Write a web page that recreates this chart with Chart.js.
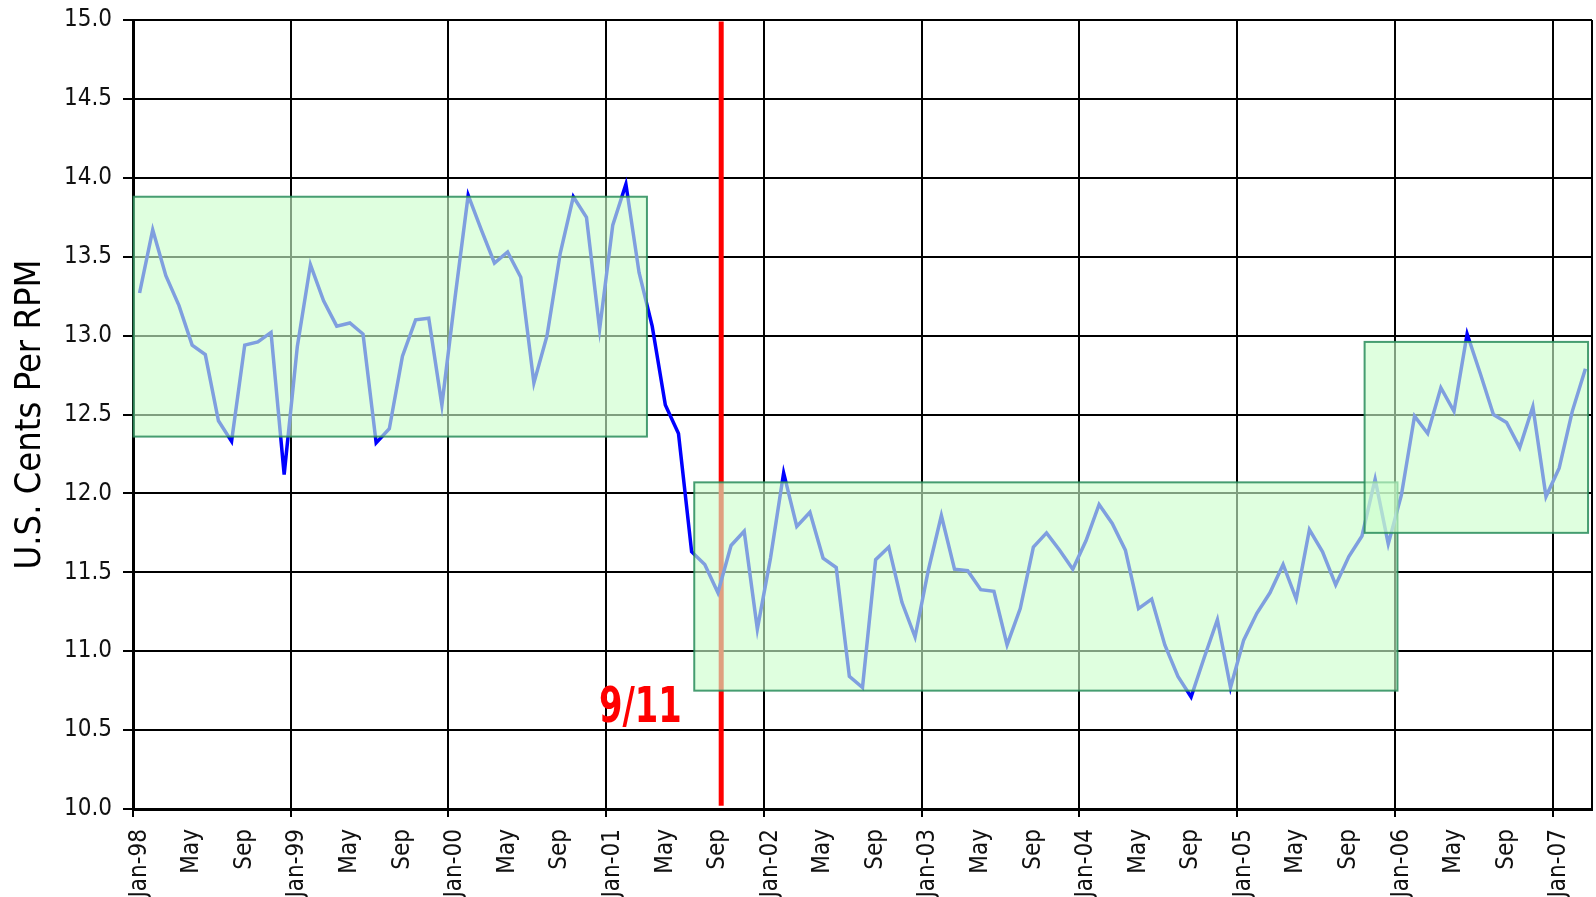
<!DOCTYPE html>
<html>
<head>
<meta charset="utf-8">
<script src="https://cdn.jsdelivr.net/npm/chart.js@4.4.1/dist/chart.umd.min.js"></script>
<style>
  html, body { margin: 0; padding: 0; background: #fff; }
  #wrap { width: 1596px; height: 897px; position: relative; }
</style>
</head>
<body>
<div id="wrap"><canvas id="chart"></canvas></div>
<script>
// Monthly yield, Jan-98 .. Mar-07 (one value per month)
const cents = [
  13.27, 13.67, 13.38, 13.19, 12.94, 12.88, 12.46, 12.33, 12.94, 12.96, 13.02, 12.12, // 1998
  12.93, 13.45, 13.22, 13.06, 13.08, 13.01, 12.32, 12.41, 12.87, 13.10, 13.11, 12.56, // 1999
  13.24, 13.89, 13.67, 13.46, 13.53, 13.37, 12.70, 13.00, 13.52, 13.88, 13.75, 13.04, // 2000
  13.70, 13.96, 13.40, 13.06, 12.56, 12.38, 11.63, 11.55, 11.37, 11.67, 11.76, 11.14, // 2001
  11.59, 12.13, 11.79, 11.88, 11.59, 11.53, 10.84, 10.77, 11.58, 11.66, 11.31, 11.09, // 2002
  11.51, 11.86, 11.52, 11.51, 11.39, 11.38, 11.04, 11.27, 11.66, 11.75, 11.64, 11.52, // 2003
  11.70, 11.93, 11.81, 11.64, 11.27, 11.33, 11.04, 10.84, 10.71, 10.96, 11.20, 10.77, // 2004
  11.07, 11.24, 11.37, 11.55, 11.33, 11.77, 11.63, 11.42, 11.60, 11.73, 12.09, 11.68, // 2005
  11.99, 12.49, 12.38, 12.67, 12.52, 13.01, 12.76, 12.50, 12.45, 12.29, 12.55, 11.98, // 2006
  12.16, 12.52, 12.79                                                                  // 2007
];

// x labels, one every four months
const tickLabels = [
  'Jan-98', 'May', 'Sep', 'Jan-99', 'May', 'Sep', 'Jan-00', 'May', 'Sep',
  'Jan-01', 'May', 'Sep', 'Jan-02', 'May', 'Sep', 'Jan-03', 'May', 'Sep',
  'Jan-04', 'May', 'Sep', 'Jan-05', 'May', 'Sep', 'Jan-06', 'May', 'Sep', 'Jan-07'
];

// highlighted ranges (months from Jan-98, cents)
const boxFrom   = [0.05, 42.7, 93.7];
const boxTo     = [39.1, 96.2, 110.7];
const boxHigh   = [13.88, 12.07, 12.96];
const boxLow    = [12.36, 10.75, 11.75];

// 9/11 marker
const eventMonth = 44.75;
const eventLabel = '9/11';

const MONTHS = cents.length;           // 111
const FONT = "'Liberation Sans Narrow', 'Arial Narrow', 'DejaVu Sans Condensed', sans-serif";

const isYear = v => v % 12 === 0;

// ── overlays: red marker under the line, boxes + label over it ─────────────
const overlays = {
  id: 'overlays',
  beforeDatasetsDraw(chart) {
    const { ctx, scales: { x, y } } = chart;
    const px = x.getPixelForValue(eventMonth);
    ctx.save();
    ctx.strokeStyle = '#FF0000';
    ctx.lineWidth = 5;
    ctx.beginPath();
    ctx.moveTo(px, y.getPixelForValue(14.99));
    ctx.lineTo(px, y.getPixelForValue(10.02));
    ctx.stroke();
    ctx.restore();
  },
  afterDatasetsDraw(chart) {
    const { ctx, scales: { x, y } } = chart;
    ctx.save();
    boxFrom.forEach((from, i) => {
      const l = x.getPixelForValue(from);
      const r = x.getPixelForValue(boxTo[i]);
      const t = y.getPixelForValue(boxHigh[i]);
      const b = y.getPixelForValue(boxLow[i]);
      ctx.fillStyle = 'rgba(204,255,204,0.625)';
      ctx.fillRect(l, t, r - l, b - t);
      ctx.strokeStyle = 'rgba(40,140,90,0.85)';
      ctx.lineWidth = 2;
      ctx.strokeRect(l, t, r - l, b - t);
    });
    // label in a squeezed bold face, right edge pinned to the data position
    const tx = x.getPixelForValue(41.75);
    const ty = y.getPixelForValue(10.55);
    ctx.translate(tx, ty);
    ctx.scale(0.75, 1);
    ctx.fillStyle = '#FF0000';
    ctx.font = "bold 50px " + FONT;
    ctx.textAlign = 'right';
    ctx.textBaseline = 'alphabetic';
    ctx.fillText(eventLabel, 0, 0);
    ctx.restore();
  }
};

new Chart(document.getElementById('chart'), {
  type: 'line',
  data: {
    datasets: [{
      label: 'U.S. Cents Per RPM',
      data: cents.map((v, i) => ({ x: i + 0.5, y: v })),
      borderColor: '#0000FF',
      borderWidth: 3.5,
      pointRadius: 0,
      tension: 0,
      fill: false,
    }],
  },
  options: {
    animation: false,
    responsive: true,
    maintainAspectRatio: false,
    layout: { padding: { top: 20, right: 4, left: 0, bottom: 0 } },
    scales: {
      x: {
        type: 'linear',
        min: 0,
        max: MONTHS,
        afterBuildTicks: (s) => {
          s.ticks = tickLabels.map((_, i) => ({ value: i * 4 })).concat([{ value: MONTHS }]);
        },
        afterFit: (s) => {
          s.height = 88;
          s.paddingLeft = 0;
          s.paddingRight = 0;
        },
        border: { display: true, color: '#000', width: 3 },
        grid: {
          color: (c) => (c.tick && (isYear(c.tick.value) || c.tick.value === MONTHS)) ? '#000' : 'rgba(0,0,0,0)',
          tickColor: (c) => (c.tick && isYear(c.tick.value) && c.tick.value !== MONTHS) ? '#000' : 'rgba(0,0,0,0)',
          lineWidth: 2,
          tickLength: 8,
        },
        ticks: {
          autoSkip: false,
          maxRotation: 90,
          minRotation: 90,
          padding: 12,
          labelOffset: 6.5,
          color: '#111',
          font: { family: FONT, size: 24 },
          callback: (v) => (v % 4 === 0 && v < MONTHS) ? tickLabels[v / 4] : '',
        },
      },
      y: {
        min: 10,
        max: 15,
        afterFit: (s) => {
          s.width = 133;
          s.paddingTop = 0;
          s.paddingBottom = 0;
        },
        border: { display: true, color: '#000', width: 3 },
        grid: { color: '#000', lineWidth: 2, tickLength: 10 },
        ticks: {
          stepSize: 0.5,
          padding: 11,
          color: '#111',
          font: { family: FONT, size: 24 },
          callback: (v) => v.toFixed(1),
        },
        title: {
          display: true,
          text: 'U.S. Cents Per RPM',
          color: '#000',
          font: { family: FONT, size: 36, lineHeight: 1.2 },
          padding: { top: 9, bottom: 0 },
        },
      },
    },
    plugins: {
      legend: { display: false },
      tooltip: { enabled: false },
    },
  },
  plugins: [overlays],
});
</script>
</body>
</html>
